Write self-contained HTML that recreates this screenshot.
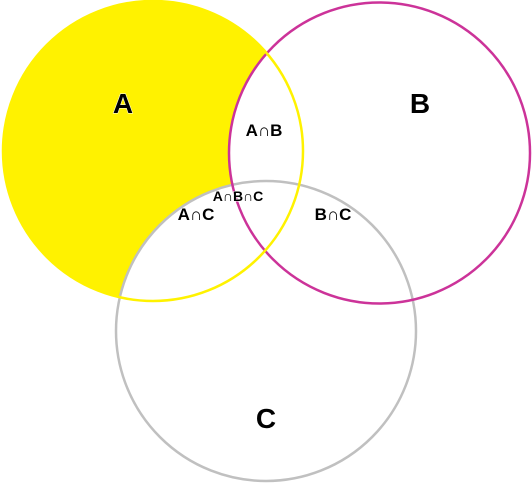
<!DOCTYPE html>
<html><head><meta charset="utf-8"><style>
html,body{margin:0;padding:0;background:#fff;width:532px;height:483px;overflow:hidden}
text{font-family:"Comic Sans MS","Liberation Sans",sans-serif;font-weight:bold;fill:#000;paint-order:stroke;stroke:#fff;stroke-width:1}
</style></head><body>
<svg width="532" height="483" viewBox="0 0 532 483">
<circle cx="153" cy="151" r="150" fill="#fff200"/>
<circle cx="379.5" cy="153" r="150.5" fill="#fff"/>
<circle cx="266" cy="331" r="150" fill="#fff"/>
<circle cx="266" cy="331" r="150" fill="none" stroke="#c0c0c0" stroke-width="2.5"/>
<circle cx="379.5" cy="153" r="150.5" fill="none" stroke="#cc3399" stroke-width="2.5"/>
<circle cx="153" cy="151" r="150" fill="none" stroke="#fff200" stroke-width="2.5"/>
<text x="123" y="113" font-size="28" text-anchor="middle">A</text>
<text x="420" y="113" font-size="28" text-anchor="middle">B</text>
<text x="266" y="428" font-size="28" text-anchor="middle">C</text>
<text x="264" y="136" font-size="17" text-anchor="middle">A∩B</text>
<text x="238" y="201" font-size="14" text-anchor="middle">A∩B∩C</text>
<text x="196" y="220" font-size="17" text-anchor="middle">A∩C</text>
<text x="333" y="220" font-size="17" text-anchor="middle">B∩C</text>
</svg>
</body></html>
